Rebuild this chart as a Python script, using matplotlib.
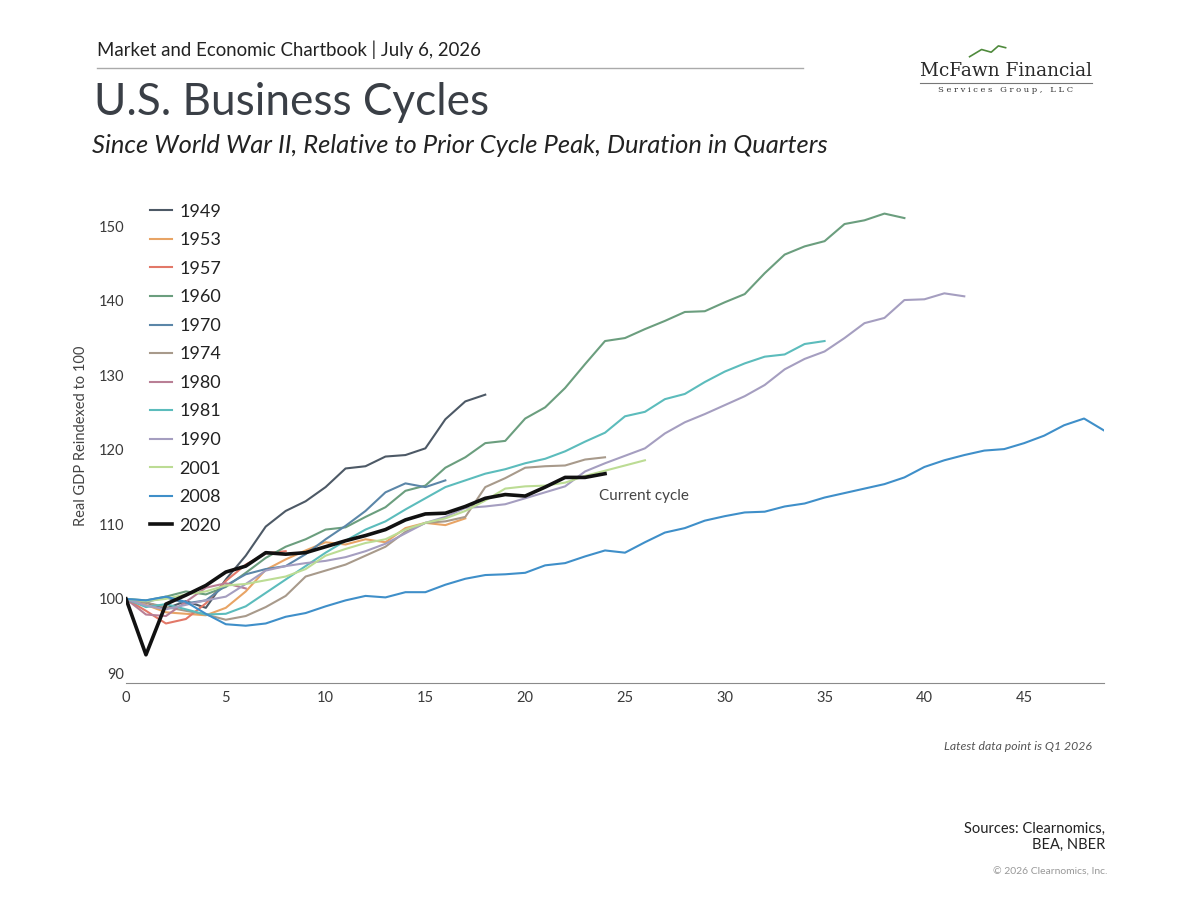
import matplotlib
matplotlib.use("Agg")
import matplotlib.pyplot as plt
from matplotlib.lines import Line2D

plt.rcParams['font.family'] = ['Lato', 'DejaVu Sans']

# GDP index per cycle, quarter 0 = prior cycle peak
cycles = ["1949", "1953", "1957", "1960", "1970", "1974", "1980", "1981", "1990", "2001", "2008", "2020"]
q1949 = [100, 99.5, 98.7, 99.7, 98.8, 102.6, 105.8, 109.7, 111.8, 113.1, 115.0, 117.5, 117.8, 119.1, 119.3,
         120.2, 124.1, 126.5, 127.4]
q1953 = [100, 99.2, 98.2, 98.0, 97.8, 98.8, 101.0, 103.9, 105.3, 106.5, 107.6, 107.3, 108.0, 107.6, 109.5,
         110.2, 109.9, 110.8]
q1957 = [100, 98.4, 96.7, 97.3, 99.4, 102.4, 104.6, 106.1, 106.4]
q1960 = [100, 99.8, 100.3, 101.0, 100.6, 101.6, 103.5, 105.5, 107.0, 108.0, 109.3, 109.6, 111.0, 112.3, 114.5,
         115.2, 117.6, 119.0, 120.9, 121.2, 124.2, 125.7, 128.3, 131.5, 134.6, 135.0, 136.2, 137.3, 138.5,
         138.6, 139.8, 140.9, 143.7, 146.2, 147.3, 148.0, 150.3, 150.8, 151.7, 151.1]
q1970 = [100, 99.6, 100.2, 99.4, 99.8, 101.8, 103.3, 104.0, 104.4, 106.0, 108.0, 109.8, 111.8, 114.3, 115.5,
         115.0, 115.9]
q1974 = [100, 99.5, 98.9, 98.4, 97.9, 97.2, 97.7, 98.9, 100.4, 103.0, 103.8, 104.6, 105.8, 107.0, 109.0,
         110.2, 110.4, 111.0, 115.0, 116.2, 117.6, 117.8, 117.9, 118.7, 119.0]
q1980 = [100, 97.9, 97.7, 99.6, 101.5, 102.1, 101.4]
q1981 = [100, 98.9, 99.3, 98.6, 97.9, 98.0, 99.0, 100.8, 102.6, 104.4, 106.2, 107.8, 109.3, 110.4, 112.0,
         113.5, 115.0, 115.9, 116.8, 117.4, 118.2, 118.8, 119.8, 121.1, 122.3, 124.5, 125.1, 126.8, 127.5,
         129.1, 130.5, 131.6, 132.5, 132.8, 134.2, 134.6]
q1990 = [100, 99.1, 98.6, 99.2, 99.8, 100.3, 102.0, 103.8, 104.4, 104.8, 105.1, 105.6, 106.4, 107.4, 108.8,
         110.2, 111.0, 112.2, 112.4, 112.7, 113.5, 114.3, 115.1, 117.1, 118.2, 119.2, 120.2, 122.2, 123.7,
         124.8, 126.0, 127.2, 128.7, 130.8, 132.2, 133.2, 135.0, 137.0, 137.7, 140.1, 140.2, 141.0, 140.6]
q2001 = [100, 99.7, 100.0, 100.6, 101.0, 101.8, 102.0, 102.5, 103.0, 104.0, 105.8, 106.7, 107.5, 108.0, 109.3,
         110.2, 110.8, 111.8, 113.2, 114.8, 115.1, 115.2, 115.6, 116.5, 117.2, 117.9, 118.6]
q2008 = [100, 99.8, 100.3, 99.6, 98.0, 96.6, 96.4, 96.7, 97.6, 98.1, 99.0, 99.8, 100.4, 100.2, 100.9,
         100.9, 101.9, 102.7, 103.2, 103.3, 103.5, 104.5, 104.8, 105.7, 106.5, 106.2, 107.6, 108.9, 109.5,
         110.5, 111.1, 111.6, 111.7, 112.4, 112.8, 113.6, 114.2, 114.8, 115.4, 116.3, 117.7, 118.6, 119.3,
         119.9, 120.1, 120.9, 121.9, 123.3, 124.2, 122.6]
q2020 = [100, 92.5, 99.3, 100.5, 101.8, 103.6, 104.4, 106.2, 106.0, 106.2, 107.0, 107.8, 108.5, 109.3, 110.6,
         111.4, 111.5, 112.4, 113.5, 114.0, 113.8, 115.0, 116.3, 116.3, 116.8]

series = [q1949, q1953, q1957, q1960, q1970, q1974, q1980, q1981, q1990, q2001, q2008, q2020]
colors = ["#4d5966", "#e8a465", "#e27868", "#6b9e7e", "#5b86a8", "#a89a8b", "#b97f95", "#5cbcbc",
          "#a59ec0", "#bcdc94", "#3f8fc9", "#111111"]

x_ticks = [0, 5, 10, 15, 20, 25, 30, 35, 40, 45]
y_ticks = [90, 100, 110, 120, 130, 140, 150]

fig = plt.figure(figsize=(12, 9), dpi=100)
ax = fig.add_axes([0.105, 0.241, 0.815, 0.549])

for name, vals, c in zip(cycles, series, colors):
    lw = 2.6 if name == "2020" else 1.5
    ax.plot(range(len(vals)), vals, color=c, lw=lw, label=name, zorder=3 if name == "2020" else 2)

ax.set_xlim(0, 49)
ax.set_ylim(88.7, 155)
ax.set_xticks(x_ticks)
ax.set_yticks(y_ticks)
ax.tick_params(axis="x", length=0, labelsize=10.5, labelcolor="#3a3a3a", pad=6)
ax.tick_params(axis="y", length=0, labelsize=10.5, labelcolor="#3a3a3a", pad=1)
for s in ["top", "right", "left"]:
    ax.spines[s].set_visible(False)
ax.spines["bottom"].set_color("#8a8a8a")
ax.set_ylabel("Real GDP Reindexed to 100", fontsize=10.5, color="#444444", labelpad=8)

ax.text(23.7, 113.8, "Current cycle", fontsize=11, color="#444444", va="center", ha="left")

leg = ax.legend(loc="upper left", bbox_to_anchor=(0.017, 0.985), frameon=False, fontsize=13,
                handlelength=1.25, handletextpad=0.4, labelspacing=0.695, borderaxespad=0)
for t in leg.get_texts():
    t.set_color("#222222")

# header
fig.text(0.081, 0.945, "Market and Economic Chartbook | July 6, 2026", fontsize=13.4, color="#222222",
         va="center")
fig.add_artist(Line2D([0.081, 0.669], [0.925, 0.925], color="#aaaaaa", lw=1))
fig.text(0.078, 0.886, "U.S. Business Cycles", fontsize=31.8, color="#3a3f46", va="center")
fig.text(0.077, 0.838, "Since World War II, Relative to Prior Cycle Peak, Duration in Quarters",
         fontsize=18.4, style="italic", color="#222222", va="center")

# logo
fig.add_artist(Line2D([0.808, 0.818, 0.826, 0.832, 0.838], [0.937, 0.945, 0.942, 0.949, 0.947],
                      color="#4f8a3c", lw=1.2))
fig.text(0.838, 0.921, "McFawn Financial", fontsize=13.3, family="DejaVu Serif", color="#2a2a2a",
         ha="center", va="center")
fig.add_artist(Line2D([0.767, 0.910], [0.908, 0.908], color="#777777", lw=0.8))
fig.text(0.838, 0.9, "S e r v i c e s   G r o u p ,   L L C", fontsize=6, family="DejaVu Serif",
         color="#333333", ha="center", va="center")

# footer
fig.text(0.91, 0.171, "Latest data point is Q1 2026", fontsize=8.8, style="italic", color="#555555",
         ha="right", va="center")
fig.text(0.921, 0.07, "Sources: Clearnomics,\nBEA, NBER", fontsize=10.5, color="#222222", ha="right",
         va="center", multialignment="right", linespacing=1.25)
fig.text(0.923, 0.031, "\u00a9 2026 Clearnomics, Inc.", fontsize=7.5, color="#999999", ha="right",
         va="center")

fig.savefig("out.png", dpi=100)
